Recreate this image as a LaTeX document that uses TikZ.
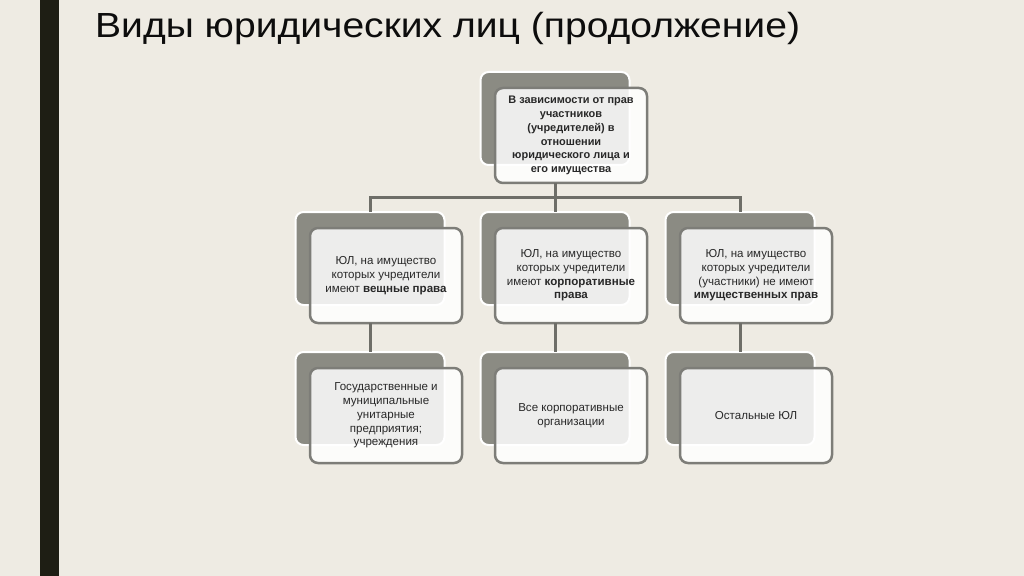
\documentclass[tikz,border=0pt]{standalone}
\usepackage{fontspec}
\setmainfont{Liberation Sans}
\newfontfamily\titlefont[FakeStretch=1.12]{Liberation Sans}
\usepackage{xcolor}
\usepackage{tikz}
\usetikzlibrary{positioning, calc}

\definecolor{paper}{RGB}{238,235,227}
\definecolor{boxgray}{RGB}{139,139,131}
\definecolor{edgegray}{RGB}{125,125,120}
\definecolor{linkgray}{RGB}{110,110,104}
\definecolor{barblack}{RGB}{30,30,20}
\definecolor{inkgray}{RGB}{40,40,40}

\begin{document}
\begin{tikzpicture}[x=1bp, y=-1bp, node distance=47bp and 36bp,
  backbox/.style={rectangle, rounded corners=8bp, draw=white, line width=2bp, fill=boxgray, minimum width=149bp, minimum height=93bp, outer sep=0pt},
  frontbox/.style={rectangle, rounded corners=8bp, draw=edgegray, line width=2.5bp, fill=white, fill opacity=0.85, text opacity=1, text=inkgray, minimum width=152bp, minimum height=95bp, outer sep=0pt, align=center, xshift=16bp, yshift=-17bp, font=\fontsize{11.6}{13.8}\selectfont},
  link/.style={draw=linkgray, line width=3bp}]
\fill[paper] (0,0) rectangle (1024,576);
\fill[barblack] (40,0) rectangle (59,576);
\node (title) [anchor=base west, inner sep=0pt, text=black!95, font=\titlefont\fontsize{35}{40}\selectfont] at (95,38) {Виды юридических лиц (продолжение)};

% criterion
\node (crit) [backbox] at (555,118.5) {};
\node (critf) [frontbox, font=\fontsize{11}{13.8}\selectfont\bfseries] at (crit) {В зависимости от прав\\участников\\(учредителей) в\\отношении\\юридического лица и\\его имущества};

% kinds of rights
\node (korp) [backbox, below=of crit] {};
\node (veshch) [backbox, left=of korp] {};
\node (nepr) [backbox, right=of korp] {};
\node (veshchf) [frontbox] at (veshch) {ЮЛ, на имущество\\которых учредители\\имеют \textbf{вещные права}};
\node (korpf) [frontbox] at (korp) {ЮЛ, на имущество\\которых учредители\\имеют \textbf{корпоративные}\\\textbf{права}};
\node (neprf) [frontbox] at (nepr) {ЮЛ, на имущество\\которых учредители\\(участники) не имеют\\\textbf{имущественных прав}};

% examples
\node (gos) [backbox, below=of veshch] {};
\node (vse) [backbox, below=of korp] {};
\node (ost) [backbox, below=of nepr] {};
\node (gosf) [frontbox] at (gos) {Государственные и\\муниципальные\\унитарные\\предприятия;\\учреждения};
\node (vsef) [frontbox] at (vse) {Все корпоративные\\организации};
\node (ostf) [frontbox] at (ost) {Остальные ЮЛ};

\draw[link] (crit |- critf.south) -- (korp.north);
\draw[link] (veshch.north) |- ($(critf.south)!.5!(korp.north)$) -| (nepr.north);
\draw[link] (veshch |- veshchf.south) -- (gos.north);
\draw[link] (korp |- korpf.south) -- (vse.north);
\draw[link] (nepr |- neprf.south) -- (ost.north);
\end{tikzpicture}
\end{document}
